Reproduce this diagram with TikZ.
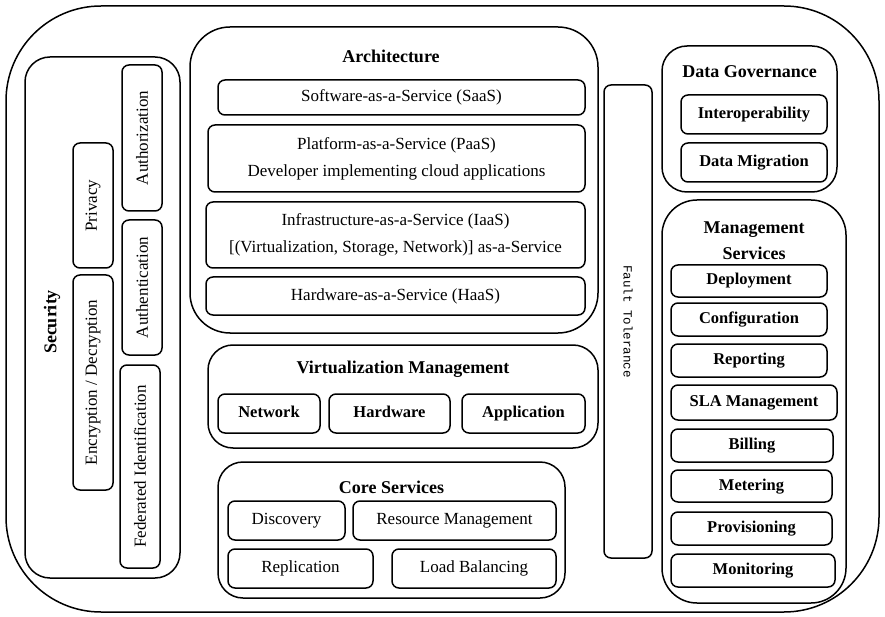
\documentclass[tikz,border=0pt]{standalone}
\usepackage{fontspec}
\setmainfont{Liberation Serif}
\setmonofont{Liberation Mono}
\begin{document}
\begin{tikzpicture}[x=1pt,y=-1pt,
  frame/.style={draw,line width=1.5pt,inner sep=0pt},
  item/.style={frame,rounded corners=7pt,align=center,font=\fontsize{17}{27}\selectfont},
  bitem/.style={item,text height=11.5pt,text depth=3.5pt,font=\fontsize{16.5}{27}\selectfont\bfseries},
  group/.style={frame,rounded corners=25pt},
  title/.style={align=center,inner sep=0pt,font=\fontsize{18}{26}\selectfont\bfseries}]
  \useasboundingbox (0,0) rectangle (885,617);
  % outer frame
  \node[frame,rounded corners=95pt,minimum width=873pt,minimum height=606pt] (cloud) at (442.5,309) {};
  % security
  \node[group,minimum width=155pt,minimum height=521pt] (security) at (102.5,317.5) {};
  \node[title,rotate=90] (securitytitle) at (52,322) {Security};
  \node[item,rotate=90,minimum width=146pt,minimum height=40pt] (authorization) at (142,138) {Authorization};
  \node[item,rotate=90,minimum width=125pt,minimum height=40pt] (privacy) at (93,205.5) {Privacy};
  \node[item,rotate=90,minimum width=135pt,minimum height=40pt] (authentication) at (142,287.5) {Authentication};
  \node[item,rotate=90,minimum width=215pt,minimum height=40pt] (encryption) at (93,382.5) {Encryption / Decryption};
  \node[item,rotate=90,minimum width=203pt,minimum height=40pt] (federated) at (140,466.5) {Federated Identification};
  % architecture
  \node[frame,rounded corners=40pt,minimum width=408pt,minimum height=306pt] (architecture) at (394,180) {};
  \node[title] (architecturetitle) at (391,56) {Architecture};
  \node[item,minimum width=367pt,minimum height=35pt] (saas) at (401.5,97.5) {Software-as-a-Service (SaaS)};
  \node[item,minimum width=377pt,minimum height=67pt] (paas) at (396.5,158.5) {Platform-as-a-Service (PaaS)\\Developer implementing cloud applications};
  \node[item,minimum width=379pt,minimum height=66pt] (iaas) at (395.5,235) {Infrastructure-as-a-Service (IaaS)\\{[}(Virtualization, Storage, Network)] as-a-Service};
  \node[item,minimum width=379pt,minimum height=38pt] (haas) at (395.5,296) {Hardware-as-a-Service (HaaS)};
  % virtualization management
  \node[group,minimum width=390pt,minimum height=103pt] (virtualization) at (403,396.5) {};
  \node[title] (virtualizationtitle) at (403,369) {Virtualization Management};
  \node[bitem,minimum width=102pt,minimum height=39pt] (network) at (269,413.5) {Network};
  \node[bitem,minimum width=121pt,minimum height=39pt] (hardware) at (389.5,413.5) {Hardware};
  \node[bitem,minimum width=123pt,minimum height=39pt] (application) at (523.5,413.5) {Application};
  % core services
  \node[group,minimum width=347pt,minimum height=136pt] (core) at (391.5,530) {};
  \node[title] (coretitle) at (391.5,487) {Core Services};
  \node[item,minimum width=117pt,minimum height=39pt] (discovery) at (286.5,520.5) {Discovery};
  \node[item,minimum width=203pt,minimum height=39pt] (resource) at (454.5,520.5) {Resource Management};
  \node[item,minimum width=145pt,minimum height=39pt] (replication) at (300.5,568.5) {Replication};
  \node[item,minimum width=164pt,minimum height=39pt] (loadbalancing) at (474,568.5) {Load Balancing};
  % fault tolerance
  \node[item,rotate=-90,minimum width=473pt,minimum height=48pt,font=\fontsize{12.5}{15}\ttfamily] (fault) at (628,321.5) {Fault Tolerance};
  % data governance
  \node[group,minimum width=175pt,minimum height=146pt] (governance) at (749.5,119) {};
  \node[title] (governancetitle) at (749.5,72) {Data Governance};
  \node[bitem,minimum width=146pt,minimum height=39pt] (interoperability) at (754,114.5) {Interoperability};
  \node[bitem,minimum width=146pt,minimum height=39pt] (migration) at (754,162.5) {Data Migration};
  % management services
  \node[frame,rounded corners=35pt,minimum width=184pt,minimum height=403pt] (management) at (754,401.5) {};
  \node[title] (managementtitle) at (754,241) {Management\\Services};
  \node[bitem,minimum width=156pt,minimum height=32pt] (deployment) at (749,281) {Deployment};
  \node[bitem,minimum width=156pt,minimum height=33pt] (configuration) at (749,319.5) {Configuration};
  \node[bitem,minimum width=156pt,minimum height=33pt] (reporting) at (749,360.5) {Reporting};
  \node[bitem,minimum width=166pt,minimum height=35pt] (sla) at (754,402.5) {SLA Management};
  \node[bitem,minimum width=162pt,minimum height=33pt] (billing) at (752,445.5) {Billing};
  \node[bitem,minimum width=161pt,minimum height=32pt] (metering) at (751.5,486) {Metering};
  \node[bitem,minimum width=161pt,minimum height=33pt] (provisioning) at (751.5,528.5) {Provisioning};
  \node[bitem,minimum width=164pt,minimum height=33pt] (monitoring) at (753,570.5) {Monitoring};
\end{tikzpicture}
\end{document}
